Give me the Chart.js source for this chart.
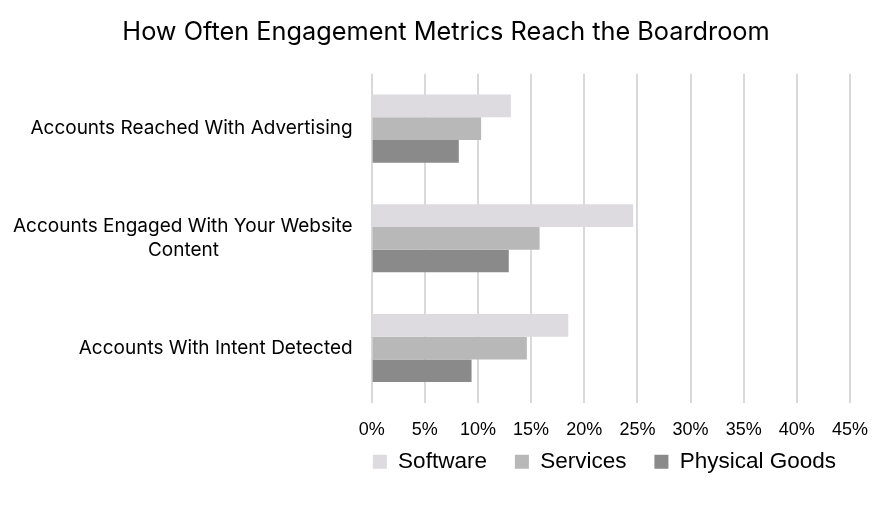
<!DOCTYPE html>
<html>
<head>
<meta charset="utf-8">
<script src="https://cdn.jsdelivr.net/npm/chart.js@4.4.1/dist/chart.umd.min.js"></script>
<style>
  html, body { margin: 0; padding: 0; background: #fff; }
  #wrap { width: 892px; height: 508px; }
</style>
</head>
<body>
<div id="wrap"><canvas id="boardroom"></canvas></div>
<script>
// data
var categories = [
    "Accounts Reached With Advertising",
    ["Accounts Engaged With Your Website", "Content"],
    "Accounts With Intent Detected"
];
var software = [13.1, 24.6, 18.5];
var services = [10.3, 15.8, 14.6];
var physicalGoods = [8.2, 12.9, 9.4];
var tickStep = 5;
var tickMax = 45;

var labelFont = "Inter, 'Liberation Sans', sans-serif";
var axisFont = "'Liberation Sans', Arial, sans-serif";
Chart.defaults.font.family = labelFont;
Chart.defaults.color = "#000";

// pad the short lines of a wrapped label so they sit centred under the long one
var measure = document.createElement("canvas").getContext("2d");
function centreLines(lines, size) {
    measure.font = size + "px " + labelFont;
    var space = measure.measureText(" ").width;
    var widest = Math.max.apply(null, lines.map(function (l) { return measure.measureText(l).width; }));
    return lines.map(function (l) {
        var extra = (widest - measure.measureText(l).width) / 2;
        return l + " ".repeat(Math.round(extra / space));
    });
}

// legend padding is both the gap between items and above them;
// keep the wide gaps but pull the row up closer to the tick labels.
// the title is centred on the page, not between the uneven side paddings
var nudge = {
    id: "nudge",
    afterLayout: function (chart) {
        chart.legend.top -= 18;
        chart.legend.bottom -= 18;
        chart.titleBlock.left += 7.5;
        chart.titleBlock.right += 7.5;
    }
};

var ctx = document.getElementById("boardroom").getContext("2d");
var chart = new Chart(ctx, {
    type: "bar",
    data: {
        labels: categories,
        datasets: [
            { label: "Software", data: software, backgroundColor: "#dddbe0" },
            { label: "Services", data: services, backgroundColor: "#b8b8b8" },
            { label: "Physical Goods", data: physicalGoods, backgroundColor: "#8a8a8a" }
        ]
    },
    options: {
        indexAxis: "y",
        responsive: true,
        maintainAspectRatio: false,
        animation: false,
        categoryPercentage: 0.62,
        barPercentage: 1,
        layout: { padding: { top: 0, right: 28, bottom: 7, left: 13 } },
        plugins: {
            title: {
                display: true,
                text: "How Often Engagement Metrics Reach the Boardroom",
                font: { size: 25.3, weight: "normal" },
                color: "#000",
                padding: { top: 17, bottom: 26.4 }
            },
            legend: {
                position: "bottom",
                align: "end",
                labels: {
                    boxWidth: 14,
                    boxHeight: 14,
                    padding: 28,
                    font: { size: 22.5, family: axisFont },
                    color: "#000"
                }
            },
            tooltip: { enabled: false }
        },
        scales: {
            x: {
                min: 0,
                max: tickMax,
                grid: { color: "#d9d9d9", lineWidth: 2, drawTicks: false },
                border: { display: false },
                ticks: {
                    stepSize: tickStep,
                    padding: 16,
                    font: { size: 18, family: axisFont },
                    color: "#000",
                    callback: function (v) { return v + "%"; }
                },
                // chart.js reserves the tick padding twice; drop the outer one
                afterFit: function (scale) {
                    scale.height -= 16;
                    scale.paddingRight = 42;
                }
            },
            y: {
                grid: { display: false, drawTicks: false },
                border: { display: false },
                ticks: {
                    padding: 19,
                    font: { size: 19, lineHeight: 1.3 },
                    color: "#000",
                    callback: function (v, i) {
                        var l = categories[i];
                        return Array.isArray(l) ? centreLines(l, 19) : l;
                    }
                },
                afterFit: function (scale) { scale.width -= 19; }
            }
        }
    },
    plugins: [nudge]
});
</script>
</body>
</html>
